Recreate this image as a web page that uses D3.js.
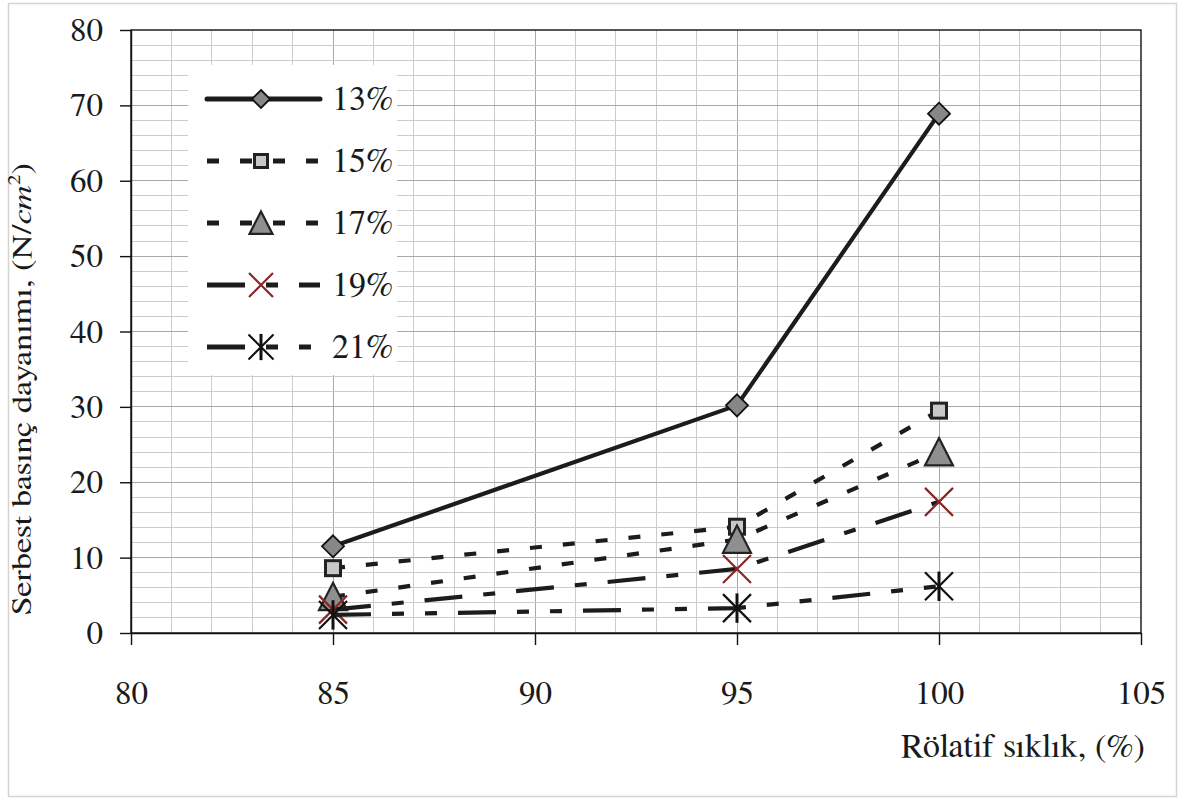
<!DOCTYPE html>
<html>
<head>
<meta charset="utf-8">
<script src="https://cdn.jsdelivr.net/npm/d3@7"></script>
<style>
  html, body { margin: 0; padding: 0; background: #ffffff; }
  svg { display: block; }
</style>
</head>
<body>
<svg id="chart" width="1181" height="800"></svg>
<script>
// Relative density (%) on the x axis
const densities = [85, 95, 100];

// Unconfined compressive strength (N/cm²) for each water content
const w13 = [11.5, 30.2, 68.9];
const w15 = [8.6, 14.1, 29.5];
const w17 = [4.8, 12.4, 24.0];
const w19 = [3.1, 8.5, 17.4];
const w21 = [2.4, 3.3, 6.2];

const seriesNames = ["13%", "15%", "17%", "19%", "21%"];

const xTicks = [80, 85, 90, 95, 100, 105];
const yTicks = [0, 10, 20, 30, 40, 50, 60, 70, 80];

const FONT = "FreeSerif, 'Liberation Serif', serif";
const INK = "#1a1a1a";

const svg = d3.select("#chart")
  .attr("font-family", FONT);
const W = 1181, H = 800;

// outer frame of the chart object
svg.append("rect")
  .attr("x", 8.5).attr("y", 3.5)
  .attr("width", W - 13).attr("height", H - 7)
  .attr("fill", "#ffffff").attr("stroke", "#d4d4d4").attr("stroke-width", 1.5);

const plot = { left: 131, right: 1141, top: 30, bottom: 633 };

const x = d3.scaleLinear().domain([80, 105]).range([plot.left, plot.right]);
const y = d3.scaleLinear().domain([0, 80]).range([plot.bottom, plot.top]);

// grid: vertical every 1 unit, horizontal every 2 units; majors a bit darker
const grid = svg.append("g");
d3.range(81, 105, 1).forEach(v => {
  grid.append("line")
    .attr("x1", x(v)).attr("x2", x(v))
    .attr("y1", plot.top).attr("y2", plot.bottom)
    .attr("stroke", v % 5 === 0 ? "#a8a8a8" : "#cccccc").attr("stroke-width", 1)
    .attr("shape-rendering", "crispEdges");
});
d3.range(2, 80, 2).forEach(v => {
  grid.append("line")
    .attr("x1", plot.left).attr("x2", plot.right)
    .attr("y1", y(v)).attr("y2", y(v))
    .attr("stroke", v % 10 === 0 ? "#a8a8a8" : "#cccccc").attr("stroke-width", 1)
    .attr("shape-rendering", "crispEdges");
});

// plot border
svg.append("rect")
  .attr("x", plot.left).attr("y", plot.top)
  .attr("width", plot.right - plot.left).attr("height", plot.bottom - plot.top)
  .attr("fill", "none").attr("stroke", "#111").attr("stroke-width", 1.4);

// axes
const yAxis = svg.append("g")
  .attr("transform", `translate(${plot.left},0)`)
  .call(d3.axisLeft(y).tickValues(yTicks).tickSize(11).tickPadding(17).tickSizeOuter(0));
const xAxis = svg.append("g")
  .attr("transform", `translate(0,${plot.bottom})`)
  .call(d3.axisBottom(x).tickValues(xTicks).tickSize(12).tickPadding(36).tickSizeOuter(0));

[yAxis, xAxis].forEach(ax => {
  ax.attr("font-family", FONT).attr("font-size", 33);
  ax.select(".domain").attr("stroke", "#111").attr("stroke-width", 1.4);
  ax.selectAll(".tick line").attr("stroke", "#111").attr("stroke-width", 1.4);
  ax.selectAll(".tick text").attr("fill", INK);
});

// axis titles
svg.append("text")
  .attr("x", 1145).attr("y", 757)
  .attr("text-anchor", "end")
  .attr("font-size", 33)
  .attr("fill", INK)
  .attr("textLength", 244)
  .attr("lengthAdjust", "spacingAndGlyphs")
  .text("Rölatif sıklık, (%)");

const yTitle = svg.append("text")
  .attr("transform", "translate(31,615) rotate(-90)")
  .attr("font-size", 27)
  .attr("fill", INK)
  .attr("textLength", 452)
  .attr("lengthAdjust", "spacingAndGlyphs");
yTitle.append("tspan").text("Serbest basınç dayanımı, (N/");
yTitle.append("tspan").attr("font-style", "italic").text("cm");
yTitle.append("tspan").attr("font-size", 17).attr("dy", -11).text("2");
yTitle.append("tspan").attr("dy", 11).text(")");

// marker shapes
function drawMarker(g, type, cx, cy, s) {
  if (type === "diamond") {
    g.append("path")
      .attr("d", `M${cx},${cy - s}L${cx + s},${cy}L${cx},${cy + s}L${cx - s},${cy}Z`)
      .attr("fill", "#878787").attr("stroke", "#111").attr("stroke-width", 1.8);
  } else if (type === "square") {
    g.append("rect")
      .attr("x", cx - s).attr("y", cy - s).attr("width", 2 * s).attr("height", 2 * s)
      .attr("fill", "#c8c8c8").attr("stroke", "#222").attr("stroke-width", 3);
  } else if (type === "triangle") {
    g.append("path")
      .attr("d", `M${cx},${cy - s}L${cx + s},${cy + s * 0.95}L${cx - s},${cy + s * 0.95}Z`)
      .attr("fill", "#8f8f8f").attr("stroke", "#222").attr("stroke-width", 2.2)
      .attr("stroke-linejoin", "miter");
  } else if (type === "cross") {
    g.append("path")
      .attr("d", `M${cx - s},${cy - s}L${cx + s},${cy + s}M${cx - s},${cy + s}L${cx + s},${cy - s}`)
      .attr("stroke", "#8b2525").attr("stroke-width", 2.2).attr("fill", "none");
  } else if (type === "star") {
    g.append("path")
      .attr("d", `M${cx - s},${cy - s}L${cx + s},${cy + s}M${cx - s},${cy + s}L${cx + s},${cy - s}`)
      .attr("stroke", "#111").attr("stroke-width", 2.2).attr("fill", "none");
    g.append("path")
      .attr("d", `M${cx},${cy - s * 1.05}L${cx},${cy + s * 1.05}`)
      .attr("stroke", "#111").attr("stroke-width", 3).attr("fill", "none");
  }
}

const series = [
  { name: seriesNames[0], values: w13, dash: null, marker: "diamond", size: 11, lsize: 9 },
  { name: seriesNames[1], values: w15, dash: "12,21", marker: "square", size: 7.5, lsize: 6.5 },
  { name: seriesNames[2], values: w17, dash: "12,21", marker: "triangle", size: 14, lsize: 11.5 },
  { name: seriesNames[3], values: w19, dash: "38,21,12,21", marker: "cross", size: 14, lsize: 12 },
  { name: seriesNames[4], values: w21, dash: "38,21,12,21,12,21", marker: "star", size: 14, lsize: 12.5 }
];

const line = d3.line().x(d => x(d[0])).y(d => y(d[1]));

series.forEach(s => {
  const g = svg.append("g");
  const pts = densities.map((d, i) => [d, s.values[i]]);
  g.append("path")
    .attr("d", line(pts))
    .attr("fill", "none")
    .attr("stroke", "#1c1c1c")
    .attr("stroke-width", 4.2)
    .attr("stroke-linejoin", "round")
    .attr("stroke-linecap", s.dash ? "butt" : "round")
    .attr("stroke-dasharray", s.dash);
  pts.forEach(p => drawMarker(g, s.marker, x(p[0]), y(p[1]), s.size));
});

// legend
const legend = svg.append("g");
legend.append("rect")
  .attr("x", 188).attr("y", 65).attr("width", 209).attr("height", 310)
  .attr("fill", "#ffffff");
series.forEach((s, i) => {
  const ly = 99 + i * 62;
  legend.append("line")
    .attr("x1", 207).attr("x2", 320).attr("y1", ly).attr("y2", ly)
    .attr("stroke", "#1c1c1c").attr("stroke-width", 5)
    .attr("stroke-linecap", s.dash ? "butt" : "round")
    .attr("stroke-dasharray", s.dash);
  drawMarker(legend, s.marker, 261, ly, s.lsize);
  legend.append("text")
    .attr("x", 332).attr("y", ly + 11)
    .attr("font-size", 34)
    .attr("fill", INK)
    .text(s.name);
});
</script>
</body>
</html>
